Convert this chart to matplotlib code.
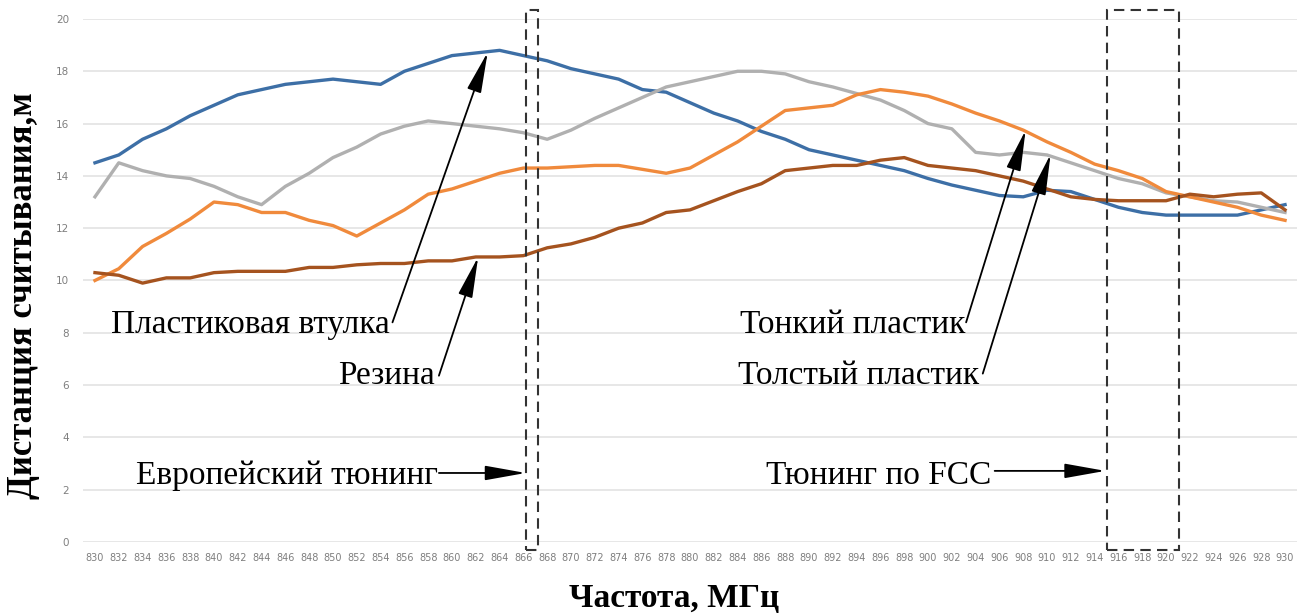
import matplotlib
matplotlib.use("Agg")
import matplotlib.pyplot as plt
from matplotlib.patches import Rectangle

freq = list(range(830, 931, 2))
sleeve = [14.5, 14.8, 15.4, 15.8, 16.3, 16.7, 17.1, 17.3, 17.5, 17.6, 17.7, 17.6, 17.5, 18.0, 18.3,
          18.6, 18.7, 18.8, 18.6, 18.4, 18.1, 17.9, 17.7, 17.3, 17.2, 16.8, 16.4, 16.1, 15.7, 15.4,
          15.0, 14.8, 14.6, 14.4, 14.2, 13.9, 13.65, 13.45, 13.25, 13.2, 13.45, 13.4, 13.1, 12.8,
          12.6, 12.5, 12.5, 12.5, 12.5, 12.7, 12.9]
thick = [13.2, 14.5, 14.2, 14.0, 13.9, 13.6, 13.2, 12.9, 13.6, 14.1, 14.7, 15.1, 15.6, 15.9, 16.1,
         16.0, 15.9, 15.8, 15.65, 15.4, 15.75, 16.2, 16.6, 17.0, 17.4, 17.6, 17.8, 18.0, 18.0, 17.9,
         17.6, 17.4, 17.15, 16.9, 16.5, 16.0, 15.8, 14.9, 14.8, 14.9, 14.8, 14.5, 14.2, 13.9,
         13.7, 13.35, 13.2, 13.05, 13.0, 12.8, 12.6]
thin = [10.0, 10.45, 11.3, 11.8, 12.35, 13.0, 12.9, 12.6, 12.6, 12.3, 12.1, 11.7, 12.2, 12.7, 13.3,
        13.5, 13.8, 14.1, 14.3, 14.3, 14.35, 14.4, 14.4, 14.25, 14.1, 14.3, 14.8, 15.3, 15.9, 16.5,
        16.6, 16.7, 17.1, 17.3, 17.2, 17.05, 16.75, 16.4, 16.1, 15.75, 15.3, 14.9, 14.45, 14.2,
        13.9, 13.4, 13.2, 13.0, 12.8, 12.5, 12.3]
rubber = [10.3, 10.2, 9.9, 10.1, 10.1, 10.3, 10.35, 10.35, 10.35, 10.5, 10.5, 10.6, 10.65, 10.65,
          10.75, 10.75, 10.9, 10.9, 10.95, 11.25, 11.4, 11.65, 12.0, 12.2, 12.6, 12.7, 13.05, 13.4,
          13.7, 14.2, 14.3, 14.4, 14.4, 14.6, 14.7, 14.4, 14.3, 14.2, 14.0, 13.8, 13.5, 13.2, 13.1,
          13.05, 13.05, 13.05, 13.3, 13.2, 13.3, 13.35, 12.7]

yticks = list(range(0, 21, 2))
ylabel = "Дистанция считывания,м"
xlabel = "Частота, МГц"

serif = ["Liberation Serif", "DejaVu Serif"]

fig = plt.figure(figsize=(13.04, 6.16), dpi=100)
ax = fig.add_axes([0.0637, 0.1201, 0.9309, 0.8491])
ax.set_xlim(829, 931)
ax.set_ylim(0, 20)

ax.plot(freq, sleeve, color="#3D6FA6", lw=2.4, zorder=3)
ax.plot(freq, thick, color="#B0B0B0", lw=2.4, zorder=3)
ax.plot(freq, thin, color="#F08A3C", lw=2.4, zorder=3)
ax.plot(freq, rubber, color="#A5531F", lw=2.4, zorder=3)

ax.set_yticks(yticks)
ax.set_xticks(freq)
ax.set_xticklabels([str(f) for f in freq], fontsize=7, color="#7F7F7F")
ax.set_yticklabels([str(t) for t in yticks], fontsize=7.5, color="#7F7F7F")
ax.tick_params(length=0)
ax.tick_params(axis="x", pad=8)
ax.tick_params(axis="y", pad=10)
ax.grid(axis="y", color="#E3E3E3", lw=1.2)
ax.set_axisbelow(True)
for s in ax.spines.values():
    s.set_visible(False)

fig.text(0.018, 0.521, ylabel, rotation=90, ha="center", va="center",
         fontsize=25, fontweight="bold", family=serif)
fig.text(0.517, 0.028, xlabel, ha="center", va="center",
         fontsize=24, fontweight="bold", family=serif)

# dashed tuning boxes
for x0, x1 in [(866.2, 867.2), (915.0, 921.1)]:
    r = Rectangle((x0, -0.3), x1 - x0, 20.65, fill=False, ls=(0, (5, 3)), lw=1.5,
                  ec="#333333", clip_on=False, zorder=4)
    ax.add_patch(r)

tfs = 24
labels = [
    ("Пластиковая втулка", 854.8, 8.0),
    ("Резина", 858.6, 6.05),
    ("Европейский тюнинг", 858.8, 2.22),
    ("Тонкий пластик", 903.1, 8.0),
    ("Толстый пластик", 904.3, 6.05),
    ("Тюнинг по FCC", 905.3, 2.22),
]
for txt, x, y in labels:
    ax.text(x, y, txt, ha="right", va="baseline", fontsize=tfs, family=serif, color="black")

arrows = [
    ((855.0, 8.4), (863.0, 18.73)),
    ((858.9, 6.36), (862.2, 10.9)),
    ((903.2, 8.4), (908.2, 15.75)),
    ((904.6, 6.44), (910.3, 14.83)),
    ((858.9, 2.64), (866.2, 2.64)),
    ((905.6, 2.72), (914.9, 2.72)),
]
for (x0, y0), (x1, y1) in arrows:
    ax.annotate("", xy=(x1, y1), xytext=(x0, y0),
                arrowprops=dict(arrowstyle="-|>,head_length=1.4,head_width=0.25",
                                mutation_scale=18, color="black", lw=1.3,
                                shrinkA=0, shrinkB=0), zorder=5)

fig.savefig("out.png", dpi=100)
